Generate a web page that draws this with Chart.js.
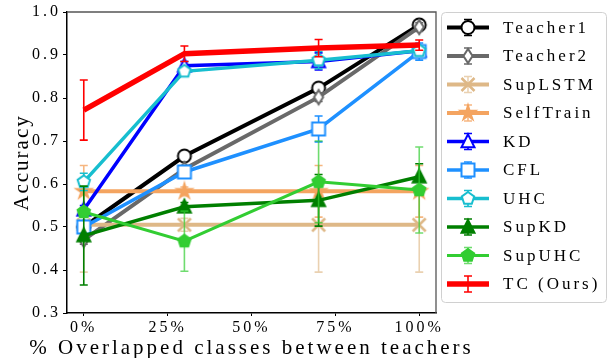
<!DOCTYPE html>
<html><head><meta charset="utf-8">
<script src="https://cdn.jsdelivr.net/npm/chart.js@4/dist/chart.umd.min.js"></script>
<style>html,body{margin:0;padding:0;background:#fff;}canvas{display:block;}</style>
</head><body>
<canvas id="c" width="611" height="358"></canvas>
<script>
// ---- data ----
const overlap = [0, 30, 70, 100];
const xTickValues = [0, 25, 50, 75, 100];
const yTickValues = [0.3, 0.4, 0.5, 0.6, 0.7, 0.8, 0.9, 1.0];
const seriesNames = ['Teacher1','Teacher2','SupLSTM','SelfTrain','KD','CFL','UHC','SupKD','SupUHC','TC (Ours)'];
const teacher1 = [0.500, 0.665, 0.823, 0.970];
const teacher1Err = [0.010, 0.008, 0.010, 0.010];
const teacher2 = [0.470, 0.635, 0.802, 0.965];
const teacher2Err = [0.010, 0.008, 0.010, 0.010];
const supLSTM = [0.505, 0.505, 0.505, 0.505];
const supLSTMErr = [0.110, 0.015, 0.110, 0.110];
const selfTrain = [0.583, 0.583, 0.583, 0.583];
const selfTrainErr = [0.060, 0.010, 0.060, 0.060];
const kd = [0.540, 0.875, 0.885, 0.910];
const kdErr = [0.010, 0.010, 0.020, 0.010];
const cfl = [0.500, 0.628, 0.728, 0.908];
const cflErr = [0.010, 0.010, 0.030, 0.020];
const uhc = [0.605, 0.862, 0.888, 0.910];
const uhcErr = [0.020, 0.010, 0.020, 0.010];
const supKD = [0.480, 0.547, 0.562, 0.617];
const supKDErr = [0.115, 0.010, 0.060, 0.030];
const supUHC = [0.535, 0.467, 0.605, 0.586];
const supUHCErr = [0.010, 0.070, 0.095, 0.100];
const tc = [0.772, 0.903, 0.916, 0.923];
const tcErr = [0.070, 0.018, 0.020, 0.012];

const seriesValues = [teacher1, teacher2, supLSTM, selfTrain, kd, cfl, uhc, supKD, supUHC, tc];
const seriesErrors = [teacher1Err, teacher2Err, supLSTMErr, selfTrainErr, kdErr, cflErr, uhcErr, supKDErr, supUHCErr, tcErr];

// ---- styles ----
const FONT = '"Liberation Serif", "Times New Roman", serif';
const styles = [
  {color:'#000000', marker:'o', fill:'#ffffff', lw:4,   err:'#000000'},
  {color:'#696969', marker:'d', fill:'#ffffff', lw:4,   err:'#696969'},
  {color:'#deb887', marker:'x', fill:null,      lw:4,   err:'rgba(222,184,135,0.65)'},
  {color:'#f4a460', marker:'*', fill:'#f4a460', lw:4,   err:'rgba(244,164,96,0.8)'},
  {color:'#0000ff', marker:'^', fill:'#ffffff', lw:3.5, err:'#0000ff'},
  {color:'#1e90ff', marker:'s', fill:'#ffffff', lw:3.5, err:'#1e90ff'},
  {color:'#17becf', marker:'p', fill:'#ffffff', lw:3.5, err:'#17becf'},
  {color:'#007f00', marker:'^', fill:'#007f00', lw:3.5, err:'#007f00'},
  {color:'#32cd32', marker:'p', fill:'#32cd32', lw:3,   err:'rgba(50,205,50,0.7)'},
  {color:'#ff0000', marker:null, fill:null,     lw:5.5, err:'#ff0000'}
];
const MS = 6.5;

function drawMarker(g, kind, x, y, h, fill, stroke) {
  g.save();
  g.lineWidth = 2; g.strokeStyle = stroke; g.lineJoin = 'miter';
  g.beginPath();
  if (kind === 'o') { g.arc(x, y, h, 0, Math.PI*2); }
  else if (kind === 'd') { g.moveTo(x, y-h*1.1); g.lineTo(x+h*0.7, y); g.lineTo(x, y+h*1.1); g.lineTo(x-h*0.7, y); g.closePath(); }
  else if (kind === 's') { g.rect(x-h, y-h, 2*h, 2*h); }
  else if (kind === '^') { g.moveTo(x, y-h*1.1); g.lineTo(x+h, y+h*0.9); g.lineTo(x-h, y+h*0.9); g.closePath(); }
  else if (kind === 'p') { for (let k=0;k<5;k++){ const a=-Math.PI/2+k*2*Math.PI/5; const px=x+h*Math.cos(a), py=y+h*Math.sin(a); k?g.lineTo(px,py):g.moveTo(px,py);} g.closePath(); }
  else if (kind === '*') { for (let k=0;k<10;k++){ const r=k%2?h*0.42:h*1.15; const a=-Math.PI/2+k*Math.PI/5; const px=x+r*Math.cos(a), py=y+r*Math.sin(a); k?g.lineTo(px,py):g.moveTo(px,py);} g.closePath(); }
  else if (kind === 'x') { g.moveTo(x-h,y-h); g.lineTo(x+h,y+h); g.moveTo(x+h,y-h); g.lineTo(x-h,y+h); g.lineWidth = 2.5; }
  if (fill) { g.fillStyle = fill; g.fill(); }
  g.stroke();
  g.restore();
}
function markerCanvas(st) {
  const size = 22;
  const cv = document.createElement('canvas'); cv.width = size; cv.height = size;
  const g = cv.getContext('2d');
  drawMarker(g, st.marker, size/2, size/2, MS, st.fill, st.color);
  return cv;
}

const datasets = seriesNames.map((name, i) => ({
  label: name,
  data: overlap.map((x, j) => ({x: x, y: seriesValues[i][j]})),
  errors: seriesErrors[i],
  errColor: styles[i].err,
  borderColor: styles[i].color,
  backgroundColor: styles[i].color,
  borderWidth: styles[i].lw,
  pointStyle: styles[i].marker ? markerCanvas(styles[i]) : false,
  pointRadius: styles[i].marker ? 6 : 0,
  pointHoverRadius: styles[i].marker ? 6 : 0,
  tension: 0, fill: false,
  order: seriesNames.length - i
}));

function setSpacing(chart){ try { chart.ctx.letterSpacing = '3px'; } catch(e){} }
// draw an axis title with its own letter spacing (and room wider than the axis)
function wrapTitle(ax, spacing, extra, dy) {
  if (ax._wrappedTitle) return;
  ax._wrappedTitle = true;
  const orig = ax.drawTitle;
  ax.drawTitle = function() {
    const ctx = this.ctx;
    const prev = ctx.letterSpacing;
    try { ctx.letterSpacing = spacing; } catch(e){}
    const l = this.left, r = this.right, b = this.bottom;
    this.left = l - extra; this.right = r + extra; this.bottom = b + dy;
    orig.apply(this, arguments);
    this.left = l; this.right = r; this.bottom = b;
    try { ctx.letterSpacing = prev; } catch(e){}
  };
}

const errorBarPlugin = {
  id: 'errbars',
  beforeLayout: setSpacing,
  beforeDraw: setSpacing,
  beforeDatasetDraw(chart, args) {
    const ds = chart.data.datasets[args.index];
    const xs = chart.scales.x, ys = chart.scales.y, ctx = chart.ctx;
    ctx.save();
    ctx.strokeStyle = ds.errColor; ctx.lineWidth = 1.6;
    ds.data.forEach((p, j) => {
      const e = ds.errors[j];
      const px = xs.getPixelForValue(p.x);
      const y1 = ys.getPixelForValue(p.y + e), y2 = ys.getPixelForValue(p.y - e);
      ctx.beginPath();
      ctx.moveTo(px, y1); ctx.lineTo(px, y2);
      ctx.moveTo(px-4, y1); ctx.lineTo(px+4, y1);
      ctx.moveTo(px-4, y2); ctx.lineTo(px+4, y2);
      ctx.stroke();
    });
    ctx.restore();
  },
  afterDraw(chart) {
    const ctx = chart.ctx, a = chart.chartArea;
    ctx.save();
    ctx.strokeStyle = '#555'; ctx.lineWidth = 1.3;
    ctx.beginPath(); ctx.moveTo(a.left, a.top); ctx.lineTo(a.right, a.top); ctx.lineTo(a.right, a.bottom); ctx.stroke();
    // legend
    const bx = 441.5, by = 12.5, bw = 165, bh = 290;
    ctx.beginPath(); ctx.roundRect(bx, by, bw, bh, 4);
    ctx.fillStyle = 'rgba(255,255,255,0.8)'; ctx.fill();
    ctx.strokeStyle = '#d0d0d0'; ctx.lineWidth = 1; ctx.stroke();
    ctx.font = '17px ' + FONT; ctx.fillStyle = '#000';
    ctx.textBaseline = 'middle'; ctx.textAlign = 'left';
    try { ctx.letterSpacing = '3px'; } catch(e){}
    seriesNames.forEach((name, i) => {
      const st = styles[i];
      const y = 27.5 + i * 28.5, x0 = 447, x1 = 489, xc = (x0 + x1) / 2;
      ctx.strokeStyle = st.err; ctx.lineWidth = 1.6;
      ctx.beginPath();
      ctx.moveTo(xc, y-8); ctx.lineTo(xc, y+8);
      ctx.moveTo(xc-4, y-8); ctx.lineTo(xc+4, y-8);
      ctx.moveTo(xc-4, y+8); ctx.lineTo(xc+4, y+8);
      ctx.stroke();
      ctx.strokeStyle = st.color; ctx.lineWidth = st.lw;
      ctx.beginPath(); ctx.moveTo(x0, y); ctx.lineTo(x1, y); ctx.stroke();
      if (st.marker) drawMarker(ctx, st.marker, xc, y, MS, st.fill, st.color);
      ctx.fillStyle = '#000';
      ctx.fillText(name, 503, y + 1);
    });
    ctx.restore();
  }
};

new Chart(document.getElementById('c'), {
  type: 'line',
  data: { datasets: datasets },
  plugins: [errorBarPlugin],
  options: {
    responsive: false, animation: false,
    layout: { padding: { left: 0, top: 12, right: 175, bottom: 0 } },
    plugins: { legend: { display: false }, tooltip: { enabled: false } },
    scales: {
      x: {
        type: 'linear', min: -5, max: 105,
        afterBuildTicks: (ax) => { ax.ticks = xTickValues.map(v => ({value: v})); },
        afterFit: (ax) => { ax.height = 45; wrapTitle(ax, '3px', 80, 3); },
        ticks: { callback: (v) => v + '%', color: '#000', font: { family: FONT, size: 16 }, padding: 2, maxRotation: 0, autoSkip: false },
        grid: { display: true, drawOnChartArea: false, drawTicks: true, tickLength: 3, color: '#000' },
        border: { display: true, color: '#000', width: 1.5 },
        title: { display: true, text: '% Overlapped classes between teachers', color: '#000', font: { family: FONT, size: 21 }, padding: { top: 0, bottom: 0 } }
      },
      y: {
        type: 'linear', min: 0.3, max: 1.0,
        afterBuildTicks: (ax) => { ax.ticks = yTickValues.map(v => ({value: v})); },
        afterFit: (ax) => { ax.width = 67; wrapTitle(ax, '2px', 0, 0); },
        ticks: { callback: (v) => v.toFixed(1), color: '#000', font: { family: FONT, size: 16 }, padding: 2 },
        grid: { display: true, drawOnChartArea: false, drawTicks: true, tickLength: 4, color: '#000' },
        border: { display: true, color: '#000', width: 1.5 },
        title: { display: true, text: 'Accuracy', color: '#000', font: { family: FONT, size: 21 }, padding: { top: 10, bottom: 0 } }
      }
    }
  }
});
</script>
</body></html>
